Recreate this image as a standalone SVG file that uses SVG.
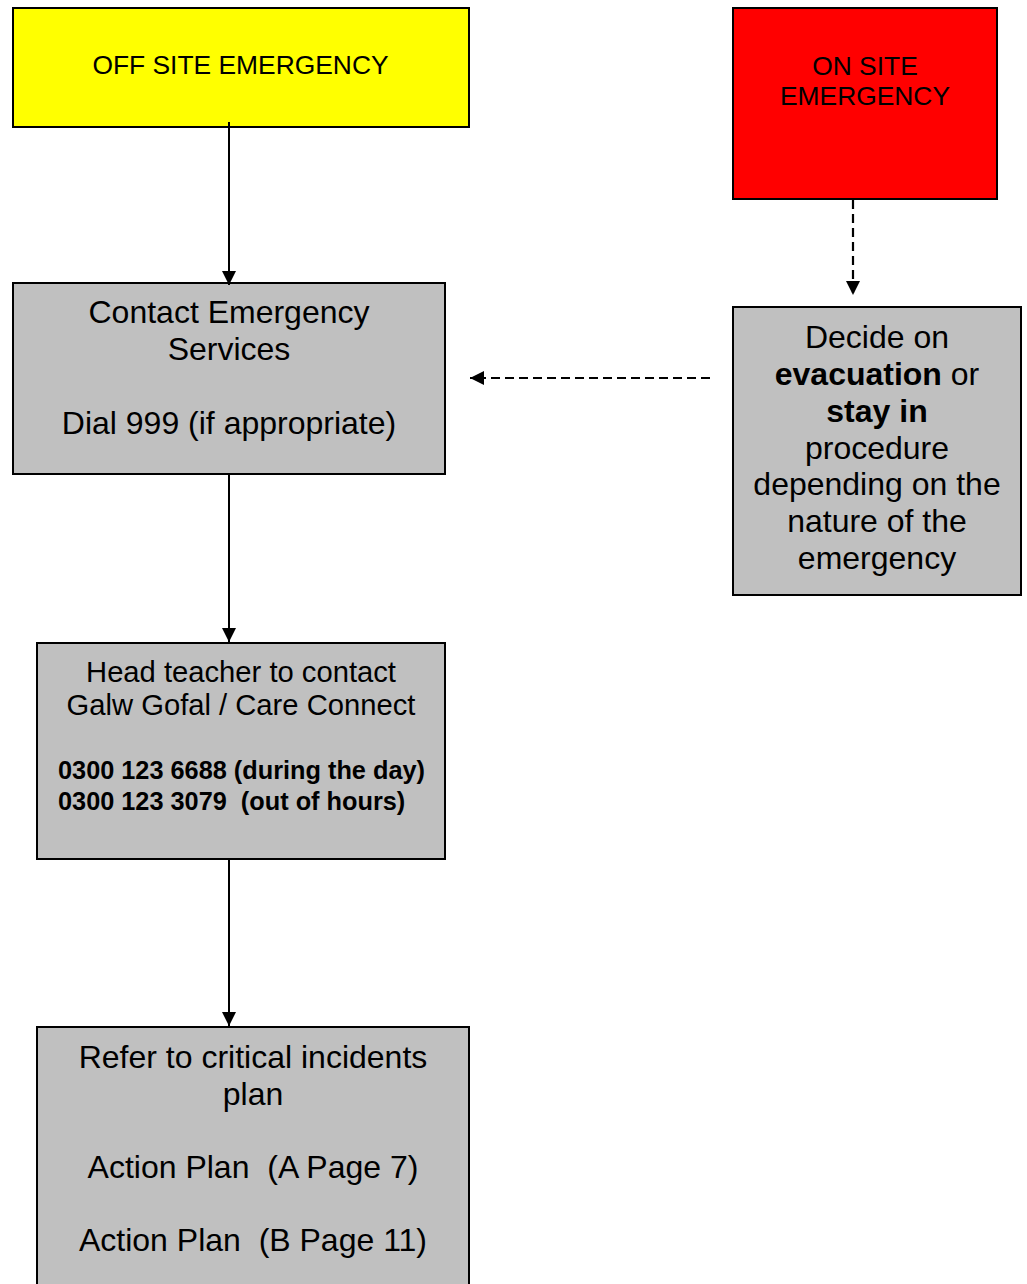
<svg xmlns="http://www.w3.org/2000/svg" width="1027" height="1284" viewBox="0 0 1027 1284">
  <style>
    text { font-family: "Liberation Sans", Arial, sans-serif; fill: #000; text-anchor: middle; white-space: pre; }
    .box { stroke: #000; stroke-width: 2; }
    .grey { fill: #c0c0c0; }
    .yellow { fill: #ffff00; }
    .red { fill: #ff0000; }
    .t26 { font-size: 26.4px; }
    .t32 { font-size: 32px; }
    .t29 { font-size: 29.2px; }
    .phone { font-size: 25.3px; font-weight: bold; text-anchor: start; }
    .b { font-weight: bold; }
    .solid { stroke: #000; stroke-width: 2; fill: none; }
    .dash { stroke: #000; stroke-width: 2.2; fill: none; stroke-dasharray: 9 5; }
  </style>
  <defs>
    <marker id="arrow" markerUnits="userSpaceOnUse" markerWidth="14" markerHeight="14" refX="14" refY="7" orient="auto">
      <path d="M0,0 L14,7 L0,14 Z" fill="#000"/>
    </marker>
  </defs>
  <rect x="0" y="0" width="1027" height="1284" fill="#fff"/>

  <g id="off-site">
    <rect class="box yellow" x="13" y="8" width="456" height="119"/>
    <text class="t26" x="240.5" y="74">OFF SITE EMERGENCY</text>
  </g>

  <g id="on-site">
    <rect class="box red" x="733" y="8" width="264" height="191"/>
    <text class="t26" x="865" y="75">ON SITE</text>
    <text class="t26" x="865" y="105">EMERGENCY</text>
  </g>

  <g id="contact">
    <rect class="box grey" x="13" y="283" width="432" height="191"/>
    <text class="t32" x="229" y="323">Contact Emergency</text>
    <text class="t32" x="229" y="360">Services</text>
    <text class="t32" x="229" y="434">Dial 999 (if appropriate)</text>
  </g>

  <g id="decide">
    <rect class="box grey" x="733" y="307" width="288" height="288"/>
    <text class="t32" x="877" y="348">Decide on</text>
    <text class="t32" x="877" y="385"><tspan class="b">evacuation</tspan> or</text>
    <text class="t32 b" x="877" y="422">stay in</text>
    <text class="t32" x="877" y="459">procedure</text>
    <text class="t32" x="877" y="495">depending on the</text>
    <text class="t32" x="877" y="532">nature of the</text>
    <text class="t32" x="877" y="569">emergency</text>
  </g>

  <g id="head-teacher">
    <rect class="box grey" x="37" y="643" width="408" height="216"/>
    <text class="t29" x="241" y="682">Head teacher to contact</text>
    <text class="t29" x="241" y="715">Galw Gofal / Care Connect</text>
    <text class="phone" x="58" y="779">0300 123 6688 (during the day)</text>
    <text class="phone" x="58" y="810">0300 123 3079  (out of hours)</text>
  </g>

  <g id="refer">
    <rect class="box grey" x="37" y="1027" width="432" height="300"/>
    <text class="t32" x="253" y="1068">Refer to critical incidents</text>
    <text class="t32" x="253" y="1105">plan</text>
    <text class="t32" x="253" y="1178">Action Plan  (A Page 7)</text>
    <text class="t32" x="253" y="1251">Action Plan  (B Page 11)</text>
  </g>

  <g id="connectors">
    <line class="solid" x1="229" y1="122" x2="229" y2="285" marker-end="url(#arrow)"/>
    <line class="solid" x1="229" y1="475" x2="229" y2="642" marker-end="url(#arrow)"/>
    <line class="solid" x1="229" y1="860" x2="229" y2="1026" marker-end="url(#arrow)"/>
    <line class="dash" x1="853" y1="200" x2="853" y2="295" marker-end="url(#arrow)"/>
    <line class="dash" x1="710" y1="378" x2="470" y2="378" marker-end="url(#arrow)"/>
  </g>
</svg>
